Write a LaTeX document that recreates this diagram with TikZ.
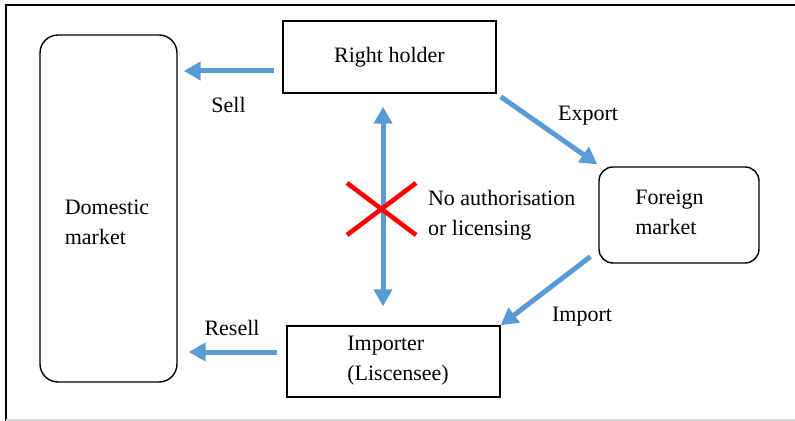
\documentclass[tikz,border=0pt]{standalone}
\usepackage{fontspec}
\setmainfont{Liberation Serif}
\usepackage{tikz}
\usetikzlibrary{arrows.meta,calc}
\definecolor{flowblue}{RGB}{91,155,213}

\begin{document}
\begin{tikzpicture}[x=0.5pt,y=-0.5pt]
\tikzstyle{every node}=[font=\fontsize{11}{15}\selectfont]
\tikzstyle{plain box}=[draw,line width=0.7pt,inner sep=0pt]
\tikzstyle{market}=[plain box,rounded corners=9pt]
\tikzstyle{flow}=[draw=flowblue,line width=2.5pt,-{Triangle[length=8.5pt,width=9pt]}]
\useasboundingbox (0,0) rectangle (795,421);
% frame
\draw[line width=1pt] (6,421) -- (6,5) -- (795,5);
\draw[black!15,line width=1pt] (6,420) -- (795,420);

\node[market,minimum width=68.5pt,minimum height=173.5pt] (domestic) at (108.5,208.5) {};
\node[align=left] (domestictext) at (107,222) {Domestic\\market};
\node[plain box,minimum width=106.5pt,minimum height=36pt] (holder) at (389.5,57) {Right holder};
\node[market,rounded corners=7pt,minimum width=80pt,minimum height=48pt] (foreign) at (679,215) {};
\node[align=left] (foreigntext) at (669.5,212) {Foreign\\market};
\node[plain box,minimum width=106.5pt,minimum height=35.5pt] (importer) at (393.5,361.5) {};
\node[align=left] (importertext) at (398,361) {Importer\\(Liscensee)};

%arrows
\draw[flow] ($(holder.west)+(-8,14)$) -- ($(domestic.east |- holder.west)+(6,14)$);
\draw[flow] ($(importer.west)+(-9,-9.5)$) -- ($(domestic.east |- importer.west)+(11,-9.5)$);
\draw[flow] ($(holder.south east)+(4,3)$) -- ($(foreign.north west)+(-1,-2)$);
\draw[flow] ($(foreign.south west)+(-8,-7)$) -- (importer.north east);
\draw[flow,{Triangle[length=8.5pt,width=9pt]}-{Triangle[length=8.5pt,width=9pt]}]
  ($(holder.south)+(-6.5,13)$) -- ($(importer.north)+(-10.5,-19)$);

\node (sell) at (228.5,105) {Sell};
\node (resell) at (232,328) {Resell};
\node (export) at (588,116) {Export};
\node (import) at (582,317) {Import};
\node[align=left,anchor=west] (noauth) at (421,215.5) {No authorisation\\or licensing};

% the cross
\draw[red,line width=2.3pt] (347,183) -- (416,235) (347,235) -- (416,183);
\end{tikzpicture}
\end{document}
